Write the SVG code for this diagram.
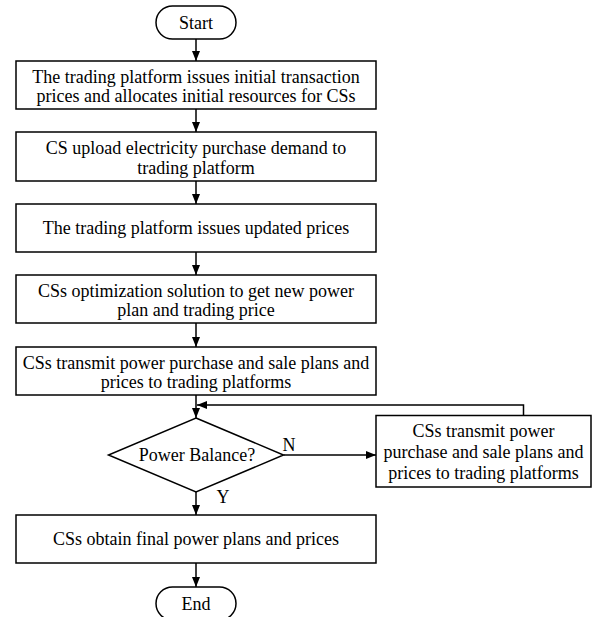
<svg xmlns="http://www.w3.org/2000/svg" width="592" height="617" viewBox="0 0 592 617">
<defs>
<marker id="arr" viewBox="0 0 10 8" refX="10" refY="4" markerWidth="10" markerHeight="8" markerUnits="userSpaceOnUse" orient="auto">
<path d="M0,0 L10,4 L0,8 Z" fill="#000"/>
</marker>
</defs>
<style>
.box{fill:#fff;stroke:#000;stroke-width:1.5}
.t{font-family:"Liberation Serif","Times New Roman",serif;font-size:18px;fill:#000;text-anchor:middle}
.c{fill:none;stroke:#000;stroke-width:1.5}
</style>
<rect width="592" height="617" fill="#fff"/>
<g id="start"><rect class="box" x="156" y="6" width="80" height="33" rx="16.5"/><text class="t" x="196" y="28.5">Start</text></g>
<g id="n1"><rect class="box" x="16" y="61" width="360" height="48"/><text class="t" x="196" y="82.5">The trading platform issues initial transaction</text><text class="t" x="196" y="102">prices and allocates initial resources for CSs</text></g>
<g id="n2"><rect class="box" x="16" y="132" width="360" height="49"/><text class="t" x="196" y="154">CS upload electricity purchase demand to</text><text class="t" x="196" y="173.5">trading platform</text></g>
<g id="n3"><rect class="box" x="16" y="204" width="360" height="48"/><text class="t" x="196" y="233.5">The trading platform issues updated prices</text></g>
<g id="n4"><rect class="box" x="16" y="275" width="360" height="48"/><text class="t" x="196" y="296.5">CSs optimization solution to get new power</text><text class="t" x="196" y="316">plan and trading price</text></g>
<g id="n5"><rect class="box" x="16" y="347" width="360" height="48"/><text class="t" x="196" y="368.5">CSs transmit power purchase and sale plans and</text><text class="t" x="196" y="388">prices to trading platforms</text></g>
<g id="d1"><polygon class="box" points="196,418 283.5,455 196,492 108.5,455"/><text class="t" x="197" y="461">Power Balance?</text></g>
<g id="n6"><rect class="box" x="376" y="415.5" width="215" height="71.5"/><text class="t" x="483.5" y="437">CSs transmit power</text><text class="t" x="483.5" y="458">purchase and sale plans and</text><text class="t" x="483.5" y="479">prices to trading platforms</text></g>
<g id="n7"><rect class="box" x="16" y="515" width="360" height="48"/><text class="t" x="196" y="545">CSs obtain final power plans and prices</text></g>
<g id="end"><rect class="box" x="156" y="587" width="80" height="33" rx="16.5"/><text class="t" x="196" y="609.5">End</text></g>
<g id="connectors">
<line class="c" x1="196" y1="39" x2="196" y2="61" marker-end="url(#arr)"/>
<line class="c" x1="196" y1="109" x2="196" y2="132" marker-end="url(#arr)"/>
<line class="c" x1="196" y1="181" x2="196" y2="204" marker-end="url(#arr)"/>
<line class="c" x1="196" y1="252" x2="196" y2="275" marker-end="url(#arr)"/>
<line class="c" x1="196" y1="323" x2="196" y2="347" marker-end="url(#arr)"/>
<line class="c" x1="196" y1="395" x2="196" y2="418" marker-end="url(#arr)"/>
<polyline class="c" points="523.5,415.5 523.5,405 197,405" marker-end="url(#arr)"/>
<line class="c" x1="283.5" y1="455" x2="376" y2="455" marker-end="url(#arr)"/>
<line class="c" x1="196" y1="492" x2="196" y2="515" marker-end="url(#arr)"/>
<line class="c" x1="196" y1="563" x2="196" y2="587" marker-end="url(#arr)"/>
<text class="t" x="289" y="451">N</text>
<text class="t" x="223" y="503">Y</text>
</g>
</svg>
